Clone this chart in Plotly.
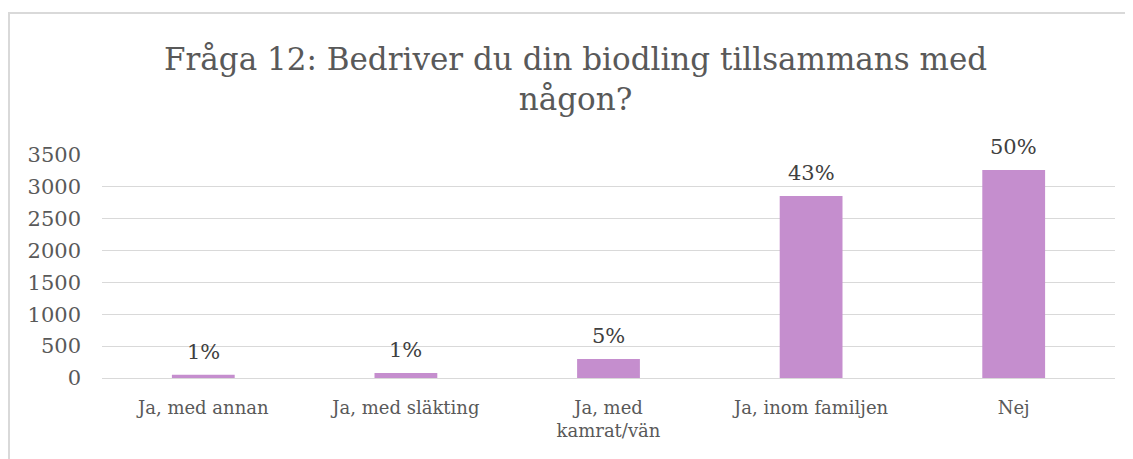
import plotly.graph_objects as go

# Data
categories = ["Ja, med annan", "Ja, med släkting", "Ja, med<br>kamrat/vän", "Ja, inom familjen", "Nej"]
counts = [50, 78, 298, 2857, 3265]
pct_labels = ["1%", "1%", "5%", "43%", "50%"]

FONT = "DejaVu Serif"

fig = go.Figure()

fig.add_trace(go.Bar(
    x=categories,
    y=counts,
    marker=dict(color="#C58ECE", line=dict(width=0)),
    width=0.31,
    cliponaxis=False,
    hoverinfo="x+y",
))

# percentage labels above the bars
for cat, val, lab in zip(categories, counts, pct_labels):
    fig.add_annotation(x=cat, y=val, text=lab, showarrow=False,
                       xanchor="center", yanchor="bottom", yshift=9,
                       font=dict(family=FONT, size=21, color="#404040"))

fig.update_layout(
    width=1133,
    height=459,
    paper_bgcolor="white",
    plot_bgcolor="white",
    showlegend=False,
    margin=dict(l=94, r=26, t=147, b=89, autoexpand=False),
    font=dict(family=FONT, color="#595959"),
    xaxis=dict(
        showgrid=False,
        showline=False,
        ticks="",
        automargin=False,
        ticklabelstandoff=17,
        tickfont=dict(family=FONT, size=18, color="#595959"),
    ),
    yaxis=dict(
        range=[0, 3500],
        dtick=500,
        showgrid=True,
        gridcolor="#D9D9D9",
        gridwidth=1,
        zeroline=True,
        zerolinecolor="#D9D9D9",
        zerolinewidth=1,
        ticks="",
        automargin=False,
        ticklabelstandoff=20,
        tickfont=dict(family=FONT, size=21, color="#595959"),
    ),
)

# title as an annotation for exact placement
fig.add_annotation(
    text="Fråga 12: Bedriver du din biodling tillsammans med<br>någon?",
    xref="paper", yref="paper", x=0.467, y=1.52, xanchor="center", yanchor="top",
    showarrow=False, align="center",
    font=dict(family=FONT, size=31, color="#595959"),
)

# chart area border, cut off at right and bottom like the source image
fig.add_shape(type="rect", xref="paper", yref="paper",
              x0=-0.0918, x1=1.3, y0=-0.5, y1=1.637,
              line=dict(color="#D9D9D9", width=2), fillcolor="rgba(0,0,0,0)", layer="below")

fig.write_html("out.html")
